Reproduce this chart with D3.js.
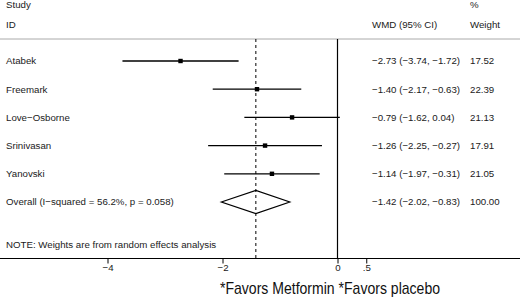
<!DOCTYPE html>
<html><head><meta charset="utf-8">
<script src="https://cdn.jsdelivr.net/npm/d3@7"></script>
<style>body{margin:0;background:#fff}svg{display:block}text{font-family:"Liberation Sans",Arial,sans-serif}</style>
</head><body>
<script>
const studies = ["Atabek","Freemark","Love\u2212Osborne","Srinivasan","Yanovski"];
const wmd =   [-2.73,-1.40,-0.79,-1.26,-1.14];
const lower = [-3.74,-2.17,-1.62,-2.25,-1.97];
const upper = [-1.72,-0.63, 0.04,-0.27,-0.31];
const weights = ["17.52","22.39","21.13","17.91","21.05"];
const ciLabels = ["\u22122.73 (\u22123.74, \u22121.72)","\u22121.40 (\u22122.17, \u22120.63)","\u22120.79 (\u22121.62, 0.04)","\u22121.26 (\u22122.25, \u22120.27)","\u22121.14 (\u22121.97, \u22120.31)"];
const overall = {label:"Overall  (I\u2212squared = 56.2%, p = 0.058)", est:-1.42, lo:-2.02, hi:-0.83, ci:"\u22121.42 (\u22122.02, \u22120.83)", w:"100.00"};
const tickValues = [-4,-2,0,0.5];
const tickLabels = ["\u22124","\u22122","0",".5"];

(function(){
const W=520,H=298;
const svg=d3.select("body").append("svg").attr("width",W).attr("height",H);
const x=d3.scaleLinear().domain([-4,0]).range([107.5,337.5]);
const rows=[...studies,"Overall"];
const y=d3.scalePoint().domain(rows).range([61,202]);
const topY=39, axisY=258.5;
const fs=9.7, col="#1a1a1a";

svg.append("text").attr("x",6).attr("y",7.5).attr("font-size",fs).attr("fill",col).text("Study");
svg.append("text").attr("x",6).attr("y",27.5).attr("font-size",fs).attr("fill",col).text("ID");
svg.append("text").attr("x",470).attr("y",7.5).attr("font-size",fs).attr("fill",col).text("%");
svg.append("text").attr("x",470).attr("y",27.5).attr("font-size",fs).attr("fill",col).text("Weight");
svg.append("text").attr("x",372).attr("y",27.5).attr("font-size",fs).attr("fill",col).text("WMD (95% CI)");
svg.append("line").attr("x1",0).attr("x2",W).attr("y1",topY).attr("y2",topY).attr("stroke","#aaa").attr("stroke-width",1);

svg.append("line").attr("x1",x(0)).attr("x2",x(0)).attr("y1",topY).attr("y2",axisY).attr("stroke","#000").attr("stroke-width",1.2);
svg.append("line").attr("x1",x(overall.est)).attr("x2",x(overall.est)).attr("y1",topY).attr("y2",axisY).attr("stroke","#000").attr("stroke-width",1).attr("stroke-dasharray","3,3");

const g=svg.append("g");
studies.forEach((s,i)=>{
  const yy=y(s);
  g.append("text").attr("x",6).attr("y",yy).attr("dy","0.35em").attr("font-size",fs).attr("fill",col).text(s);
  g.append("line").attr("x1",x(lower[i])).attr("x2",x(upper[i])).attr("y1",yy).attr("y2",yy).attr("stroke","#000").attr("stroke-width",1.3);
  g.append("rect").attr("x",x(wmd[i])-2.2).attr("y",yy-2.2).attr("width",4.4).attr("height",4.4).attr("fill","#000");
  g.append("text").attr("x",372).attr("y",yy).attr("dy","0.35em").attr("font-size",fs).attr("fill",col).text(ciLabels[i]);
  g.append("text").attr("x",470).attr("y",yy).attr("dy","0.35em").attr("font-size",fs).attr("fill",col).text(weights[i]);
});
const oy=y("Overall");
g.append("text").attr("x",6).attr("y",oy).attr("dy","0.35em").attr("font-size",fs).attr("fill",col).text(overall.label);
g.append("path").attr("d",`M${x(overall.lo)},${oy}L${x(overall.est)},${oy-11.5}L${x(overall.hi)},${oy}L${x(overall.est)},${oy+11.5}Z`).attr("fill","none").attr("stroke","#000").attr("stroke-width",1.2);
g.append("text").attr("x",372).attr("y",oy).attr("dy","0.35em").attr("font-size",fs).attr("fill",col).text(overall.ci);
g.append("text").attr("x",470).attr("y",oy).attr("dy","0.35em").attr("font-size",fs).attr("fill",col).text(overall.w);

g.append("text").attr("x",6).attr("y",245).attr("dy","0.35em").attr("font-size",fs).attr("fill",col).text("NOTE: Weights are from random effects analysis");

const axis=d3.axisBottom(x).tickValues(tickValues).tickFormat((d,i)=>tickLabels[i]).tickSize(5).tickSizeOuter(0);
const ax=svg.append("g").attr("transform",`translate(0,${axisY})`).call(axis);
ax.select(".domain").remove();
ax.selectAll(".tick line").attr("stroke","#000");
ax.selectAll(".tick text").attr("font-size",fs).attr("fill",col).attr("font-family","Liberation Sans, Arial, sans-serif").attr("y",6);
svg.append("line").attr("x1",0).attr("x2",W).attr("y1",axisY).attr("y2",axisY).attr("stroke","#000").attr("stroke-width",1);

svg.append("text").attr("x",220).attr("y",294).attr("font-size",17).attr("fill","#111")
  .attr("textLength",220).attr("lengthAdjust","spacingAndGlyphs").text("*Favors Metformin *Favors placebo");
})();
</script>
</body></html>
